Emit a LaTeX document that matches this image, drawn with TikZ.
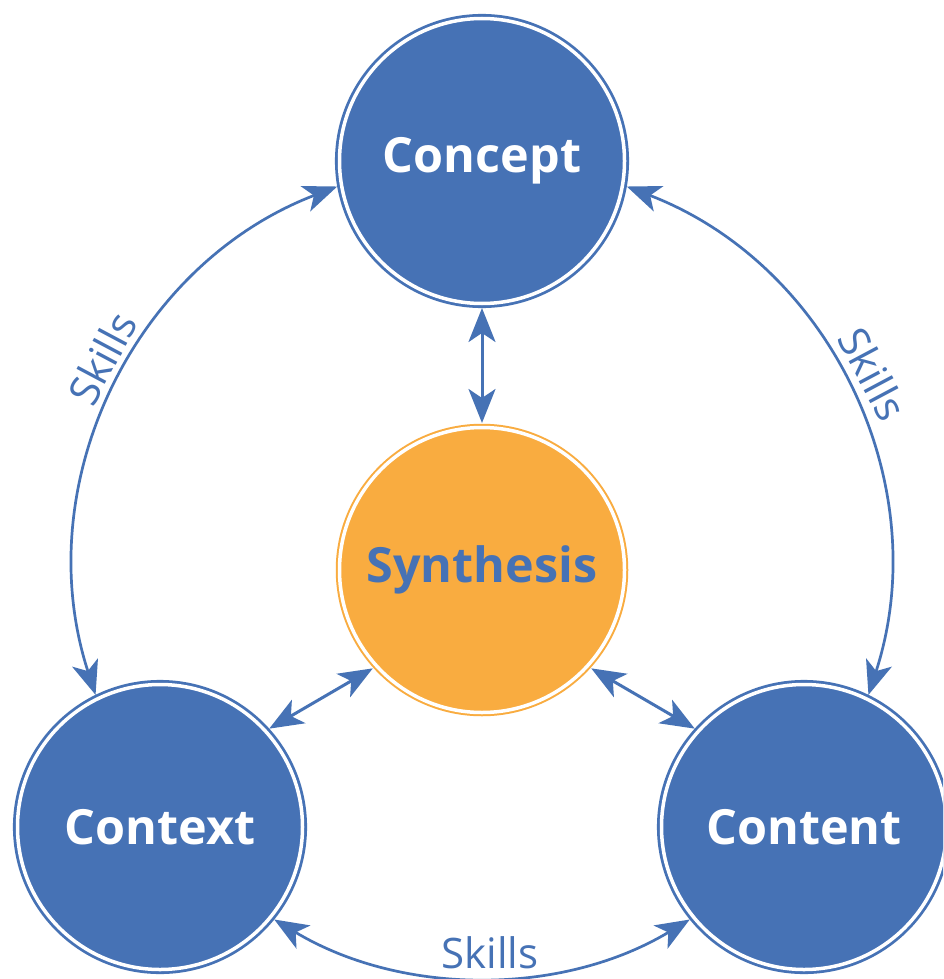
\documentclass[tikz,border=0pt]{standalone}
\usepackage{fontspec}
\setmainfont{Open Sans}
\usetikzlibrary{arrows.meta}
\definecolor{cblue}{RGB}{70,114,181}
\definecolor{corange}{RGB}{249,172,64}
\begin{document}
\begin{tikzpicture}[x=1pt,y=-1pt,
  hub/.style={circle, minimum size=285pt, inner sep=0pt, outer sep=4.5pt,
    fill=cblue, draw=cblue, line width=2.8pt, double=white, double distance=3.5pt,
    text=white, font=\fontsize{48.5}{52}\selectfont\bfseries},
  core/.style={hub, fill=corange, draw=corange, line width=2pt, text=cblue},
  link/.style={draw=cblue, line width=3pt,
    {Stealth[length=34pt 0,width=27pt 0,inset=9pt 0]}-{Stealth[length=34pt 0,width=27pt 0,inset=9pt 0]}},
  lbl/.style={text=cblue, font=\fontsize{42}{46}\selectfont, inner sep=0pt}]
\clip (0,0) rectangle (943,979);
\fill[white] (0,0) rectangle (943,979);
\node[hub] (concept) at (482,161) {Concept};
\node[core] (synth) at (482,570) {Synthesis};
\node[hub] (context) at (160,827) {Context};
\node[hub] (content) at (804,827) {Content};
\draw[link] (concept.south) -- (synth.north);
\draw[link] (synth.222) -- (context.42);
\draw[link] (synth.318) -- (content.138);
\draw[link, line width=2.7pt] (concept.190) to[out=201, in=108] (context.116);
\draw[link, line width=2.7pt] (concept.350) to[out=-21, in=72] (content.64);
\draw[link, line width=2.7pt] (context.321) to[out=329, in=211, looseness=0.92] (content.219);
\node[lbl, rotate=62] (skl) at (102,358) {Skills};
\node[lbl, rotate=-62] (skr) at (873,374) {Skills};
\node[lbl] (skb) at (490,953) {Skills};
\end{tikzpicture}
\end{document}
